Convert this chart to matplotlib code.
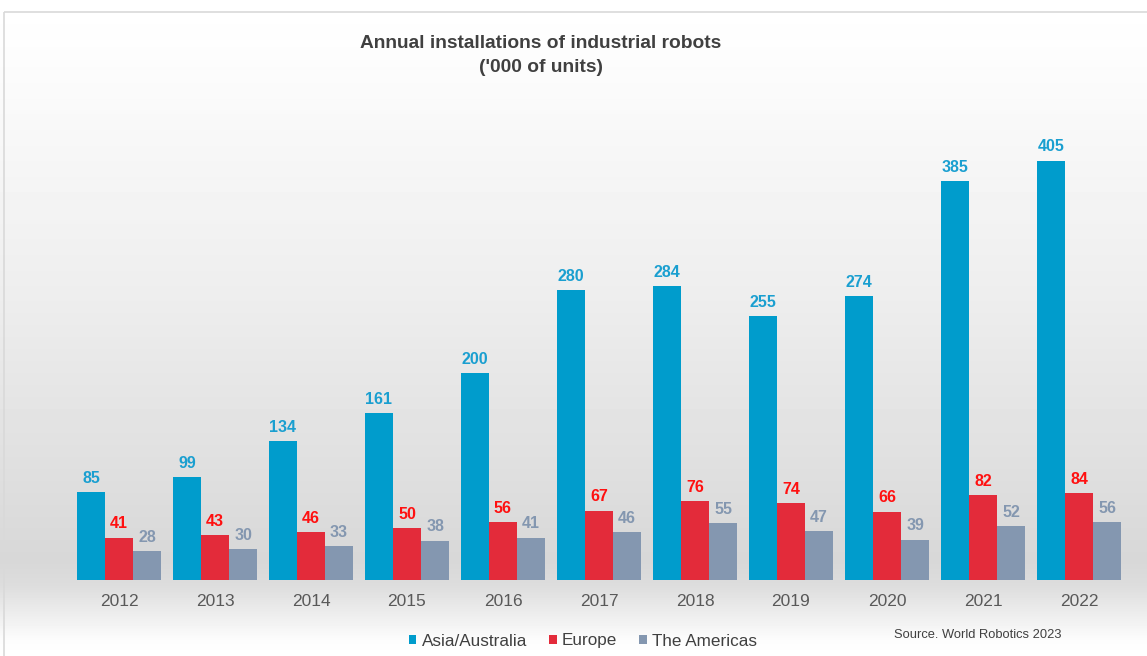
import numpy as np
import matplotlib
matplotlib.use("Agg")
from matplotlib import pyplot as plt
from matplotlib.patches import Rectangle

plt.rcParams['font.family'] = ['Liberation Sans', 'DejaVu Sans']

years = ["2012", "2013", "2014", "2015", "2016", "2017", "2018", "2019", "2020", "2021", "2022"]
asia = [85, 99, 134, 161, 200, 280, 284, 255, 274, 385, 405]
europe = [41, 43, 46, 50, 56, 67, 76, 74, 66, 82, 84]
americas = [28, 30, 33, 38, 41, 46, 55, 47, 39, 52, 56]

series = ["Asia/Australia", "Europe", "The Americas"]
bar_colors = ["#009ccc", "#e32b3a", "#8497b0"]
label_colors = ["#1a9fd0", "#ff1010", "#8497b0"]

W, H = 1147, 656
fig = plt.figure(figsize=(W / 100, H / 100), dpi=100)

# background gradient (white -> gray near baseline -> white)
bg = fig.add_axes([0, 0, 1, 1], zorder=0)
rows = np.arange(H)
vals = np.interp(rows, [0, 60, 300, 560, 585, 640, 656],
                 [1.0, 0.99, 0.93, 0.845, 0.865, 0.99, 1.0])
grad = np.tile(vals[:, None], (1, 10))
bg.imshow(grad, cmap="gray", vmin=0, vmax=1, aspect="auto", extent=[0, W, H, 0])
bg.add_patch(Rectangle((4, 12), W, H, fill=False, edgecolor="#d9d9d9", lw=1.2))
bg.set_xlim(0, W)
bg.set_ylim(H, 0)
bg.axis("off")

ax = fig.add_axes([61.4 / W, 76 / H, 1075.2 / W, (580 - 114) / H], zorder=1)
ax.patch.set_alpha(0)

x = np.arange(len(years))
w = 0.292
data = [asia, europe, americas]
for i, (vals_s, c, lc, name) in enumerate(zip(data, bar_colors, label_colors, series)):
    pos = x + (i - 1) * w
    ax.bar(pos, vals_s, width=w, color=c, label=name, zorder=2)
    for px, v in zip(pos, vals_s):
        ax.text(px, v + 6, str(v), ha="center", va="bottom", fontsize=11.5,
                fontweight="bold", color=lc, zorder=3)

ax.set_xlim(-0.6, 10.6)
ax.set_ylim(0, 450)
ax.set_xticks(x)
ax.set_xticklabels(years, fontsize=12.5, color="#595959")
ax.tick_params(axis="x", length=0, pad=10)
ax.set_yticks([])
for s in ax.spines.values():
    s.set_visible(False)

fig.text(541 / W, 1 - 44 / H, "Annual installations of industrial robots",
         ha="center", va="center", fontsize=13.8, fontweight="bold", color="#404040")
fig.text(541 / W, 1 - 67 / H, "('000 of units)",
         ha="center", va="center", fontsize=13.8, fontweight="bold", color="#404040")

leg = ax.legend(loc="center", bbox_to_anchor=(583 / W, 1 - 641 / H),
                bbox_transform=fig.transFigure, ncol=3, frameon=False,
                fontsize=12.3, handlelength=0.45, handleheight=0.45,
                handletextpad=0.3, columnspacing=1.3)
for t in leg.get_texts():
    t.set_color("#404040")

fig.text(978 / W, 1 - 635 / H, "Source. World Robotics 2023", ha="center",
         va="center", fontsize=9.3, color="#404040")

fig.savefig("out.png", dpi=100)
